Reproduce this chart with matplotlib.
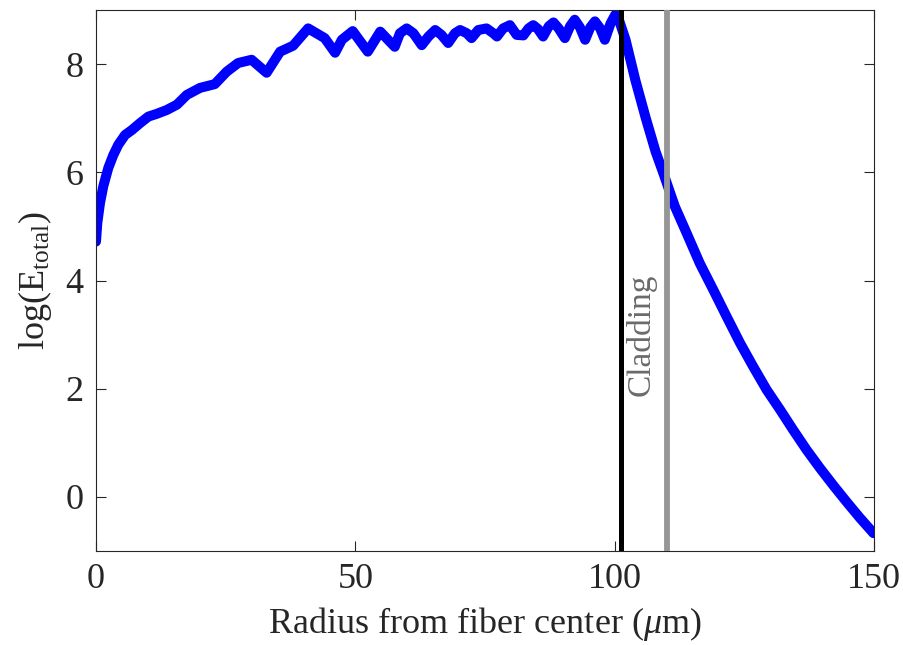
import matplotlib
matplotlib.use('Agg')
import matplotlib.pyplot as plt

plt.rcParams['font.family'] = ['Liberation Serif', 'DejaVu Serif']
plt.rcParams['mathtext.fontset'] = 'custom'
plt.rcParams['mathtext.rm'] = 'Liberation Serif'
plt.rcParams['mathtext.it'] = 'Liberation Serif:italic'

# radius (um) and log of total field
radius = [0, 0.25, 0.77, 1.4, 2.37, 3.34, 4.3, 5.6, 6.9, 8.5, 10.1, 11.7,
          13.6, 15.6, 17.5, 20.05, 22.9, 25.2, 27.4, 30.0, 32.9, 35.5, 38.0,
          40.9, 44.1, 46.1, 47.4, 49.5, 52.4, 54.8, 57.6, 58.6, 59.9, 61.2,
          62.8, 64.1, 65.4, 66.6, 67.9, 69.2, 70.2, 71.5, 72.4, 73.7, 75.3,
          76.6, 77.3, 78.5, 79.8, 81.1, 82.4, 83.4, 84.3, 85.2, 86.2, 87.3,
          88.2, 89.2, 90.4, 91.4, 92.3, 93.3, 94.3, 95.3, 96.2, 97.2, 98.1,
          99.2, 100.1, 100.6, 102.1, 104.0, 106.0, 107.9, 109.4, 111.6, 113.9,
          116.4, 119.0, 121.6, 124.2, 126.7, 129.3, 131.9, 134.4, 137.0, 139.6,
          142.1, 144.7, 147.3, 149.9]
log_e = [4.72, 5.06, 5.43, 5.74, 6.08, 6.32, 6.51, 6.69, 6.78, 6.91, 7.03, 7.08,
         7.15, 7.25, 7.43, 7.56, 7.63, 7.86, 8.02, 8.08, 7.84, 8.23, 8.34,
         8.66, 8.48, 8.21, 8.45, 8.61, 8.23, 8.60, 8.32, 8.57, 8.66, 8.57,
         8.35, 8.51, 8.63, 8.54, 8.39, 8.57, 8.63, 8.57, 8.48, 8.63, 8.66,
         8.57, 8.51, 8.66, 8.72, 8.54, 8.53, 8.66, 8.72, 8.65, 8.51, 8.70,
         8.77, 8.66, 8.48, 8.70, 8.82, 8.68, 8.45, 8.68, 8.79, 8.66, 8.45,
         8.75, 8.91, 8.88, 8.45, 7.70, 7.00, 6.38, 5.98, 5.37, 4.87,
         4.32, 3.83, 3.33, 2.84, 2.41, 1.98, 1.61, 1.24, 0.87, 0.53,
         0.22, -0.09, -0.39, -0.67]

core_edge = 101.3
cladding_edge = 110.0

fig = plt.figure(figsize=(9.04, 6.45), dpi=100)
ax = fig.add_axes([96 / 904, 1 - 551 / 645, 778 / 904, 541 / 645])

ax.plot(radius, log_e, color=(0, 0, 1), lw=7.2,
        solid_joinstyle='round', solid_capstyle='round', zorder=2)
ax.axvline(core_edge, color='black', lw=3.6, zorder=3)
ax.axvline(cladding_edge, color='#969696', lw=4.2, zorder=3)
ax.text(105.1, 3.0, 'Cladding', rotation=90, ha='center', va='center',
        color='#6a6a6a', fontsize=24)

ax.set_xlim(0, 150)
ax.set_ylim(-1, 9)
ax.set_xticks([0, 50, 100, 150])
ax.set_yticks([0, 2, 4, 6, 8])
ax.tick_params(direction='in', length=7, width=0.8, top=True, right=True,
               labelsize=26, colors='#262626', pad=9)
for s in ax.spines.values():
    s.set_color('#262626')
    s.set_linewidth(0.8)

ax.set_xlabel(r'Radius from fiber center ($\mu$m)', fontsize=26,
              color='#262626', labelpad=6)
ax.set_ylabel(r'log(E$_{\mathrm{total}}$)', fontsize=26, color='#262626',
              labelpad=8)

plt.savefig('out.png', dpi=100)
